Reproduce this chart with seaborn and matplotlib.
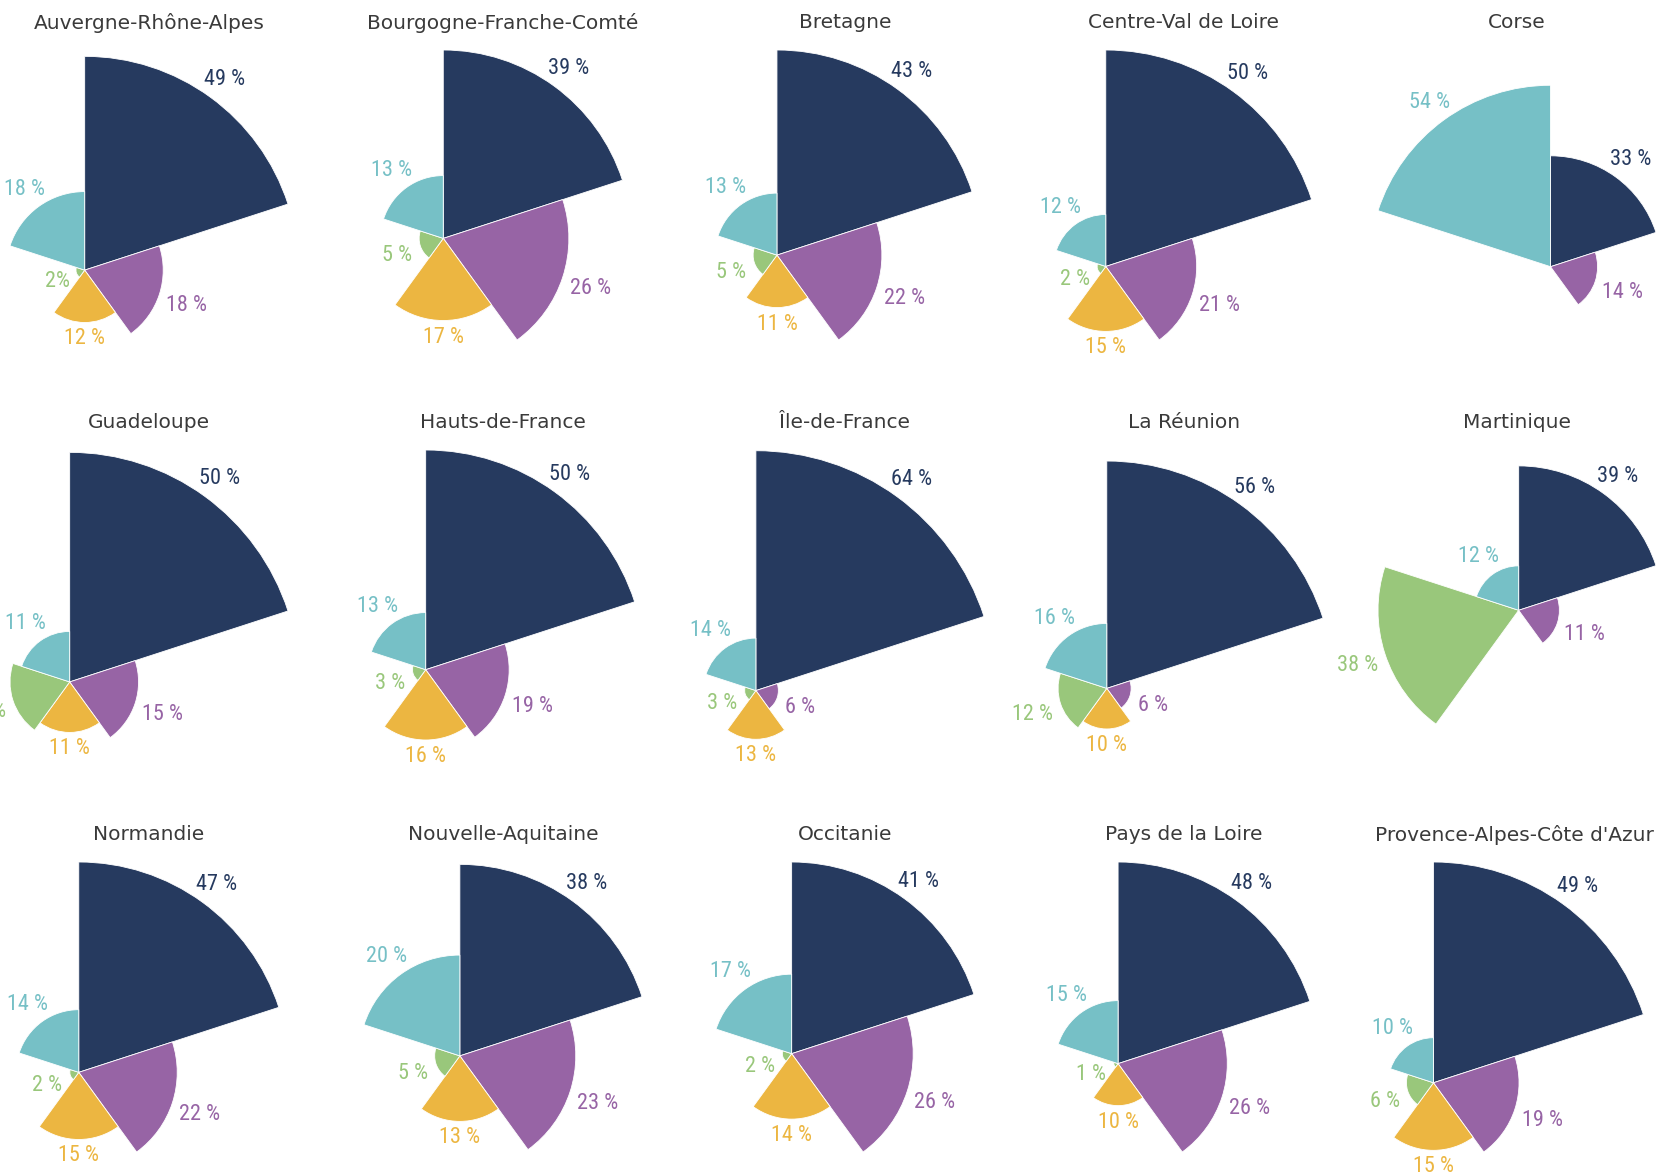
import numpy as np
import pandas as pd
import matplotlib.pyplot as plt
import seaborn as sns
from matplotlib import font_manager

# Données (en %), dans l'ordre des secteurs (sens horaire depuis midi)
regions = ['Auvergne-Rhône-Alpes', 'Bourgogne-Franche-Comté', 'Bretagne', 'Centre-Val de Loire', 'Corse',
           'Guadeloupe', 'Hauts-de-France', 'Île-de-France', 'La Réunion', 'Martinique',
           'Normandie', 'Nouvelle-Aquitaine', 'Occitanie', 'Pays de la Loire', "Provence-Alpes-Côte d'Azur"]
part_1 = [49, 39, 43, 50, 33, 50, 50, 64, 56, 39, 47, 38, 41, 48, 49]   # bleu nuit
part_2 = [18, 26, 22, 21, 14, 15, 19, 6, 6, 11, 22, 23, 26, 26, 19]    # violet
part_3 = [12, 17, 11, 15, 0, 11, 16, 13, 10, 0, 15, 13, 14, 10, 15]    # jaune
part_4 = [2, 5, 5, 2, 0, 13, 3, 3, 12, 38, 2, 5, 2, 1, 6]              # vert
part_5 = [18, 13, 13, 12, 54, 11, 13, 14, 16, 12, 14, 20, 17, 15, 10]  # turquoise
parts = ['part_1', 'part_2', 'part_3', 'part_4', 'part_5']

rows = []
for i, reg in enumerate(regions):
    for p, serie in zip(parts, [part_1, part_2, part_3, part_4, part_5]):
        rows.append({'region': reg, 'part': p, 'value': serie[i]})
df = pd.DataFrame(rows)

sns.set_theme(style='white')
palette = sns.color_palette(['#263a5f', '#9764a5', '#ecb641', '#99c77b', '#76c0c6'])

# police étroite pour les étiquettes si disponible
names = {f.name for f in font_manager.fontManager.ttflist}
label_font = 'DejaVu Sans'
for fam in ['Roboto Condensed', 'Liberation Sans Narrow', 'Open Sans Condensed']:
    if fam in names:
        label_font = fam
        break
plt.rcParams['font.family'] = ['DejaVu Sans']

FW, FH = 1658, 1176
col_centers = [149, 503, 845, 1184, 1517]
row_tops = [50, 450, 862]
cell_w, cell_h = 278, 290
step = 2 * np.pi / 5

fig = plt.figure(figsize=(FW / 100, FH / 100), dpi=100)
renderer = fig.canvas.get_renderer()

for k, reg in enumerate(regions):
    r, c = divmod(k, 5)
    vals = df[df['region'] == reg]['value'].to_numpy(float)
    starts = np.arange(5) * step

    # emprise des secteurs pour caler chaque petit graphique dans sa case
    xs, ys = [0.0], [0.0]
    for v, a0 in zip(vals, starts):
        t = np.linspace(a0, a0 + step, 80)
        xs += list(v * np.sin(t))
        ys += list(v * np.cos(t))
    xmin, xmax, ymin, ymax = min(xs), max(xs), min(ys), max(ys)
    s = min(cell_w / (xmax - xmin), cell_h / (ymax - ymin))
    px = col_centers[c] - (xmin + xmax) / 2 * s
    py = row_tops[r] + cell_h / 2 + (ymin + ymax) / 2 * s
    rmax = vals.max()
    R = rmax * s

    ax = fig.add_axes([(px - R) / FW, 1 - (py + R) / FH, 2 * R / FW, 2 * R / FH], projection='polar')
    ax.set_theta_zero_location('N')
    ax.set_theta_direction(-1)
    keep = vals > 0
    ax.bar(starts[keep], vals[keep], width=step, align='edge',
           color=[palette[j] for j in np.where(keep)[0]],
           edgecolor='white', linewidth=0.6, clip_on=False)
    ax.set_ylim(0, rmax)
    ax.axis('off')

    for j in np.where(keep)[0]:
        mid = starts[j] + step / 2
        txt = f'{int(vals[j])} %'
        if reg == 'Auvergne-Rhône-Alpes' and j == 3:
            txt = f'{int(vals[j])}%'
        ux, uy = np.sin(mid), np.cos(mid)
        off = 8 + abs(ux) * 5 * len(txt) + abs(uy) * 6
        ax.annotate(txt, xy=(mid, vals[j]), xytext=(off * ux, off * uy),
                    textcoords='offset pixels', ha='center', va='center_baseline',
                    color=palette[j], fontsize=16, family=label_font, annotation_clip=False)

    title = fig.text(col_centers[c] / FW, 1 - (row_tops[r] - 27) / FH, reg, ha='center', va='center',
                     fontsize=14.5, color='#3a3a3a')
    # le titre le plus long est recalé pour rester dans la figure
    bb = title.get_window_extent(renderer)
    if bb.x1 > FW - 4:
        title.set_x((col_centers[c] - (bb.x1 - (FW - 4))) / FW)

fig.savefig('out.png', dpi=100, facecolor='white')
